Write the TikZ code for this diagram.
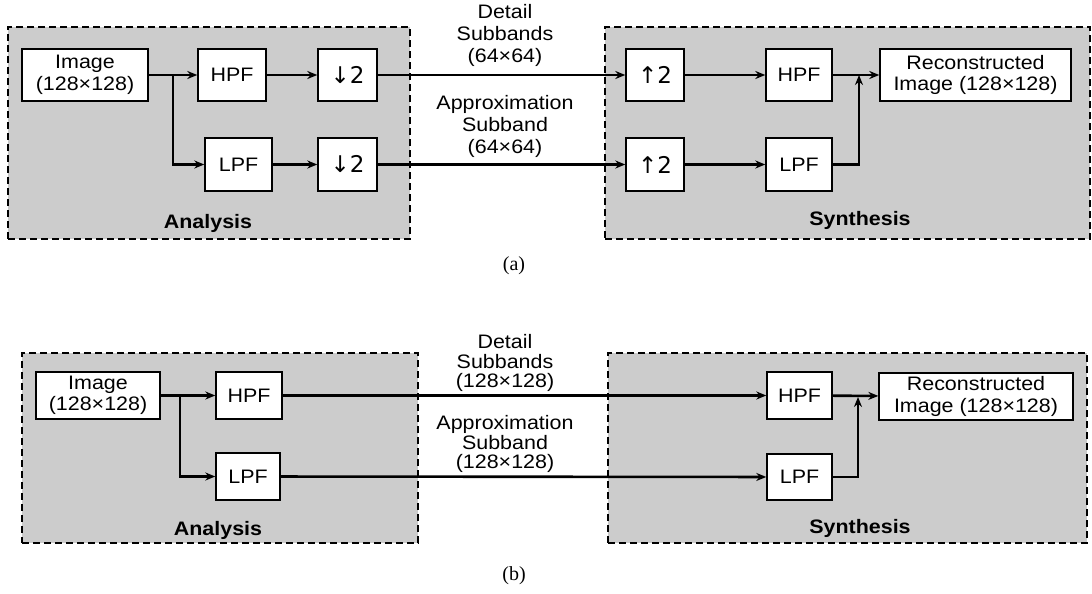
\documentclass[tikz,border=0pt]{standalone}
\usepackage{fontspec}
\setmainfont[FakeStretch=1.1]{Liberation Sans}
\newfontfamily\capfont{Liberation Serif}
\newfontfamily\arrowfont{DejaVu Sans}
\usepackage{tikz}
\usetikzlibrary{arrows.meta,positioning}
\definecolor{panelgray}{RGB}{204,204,204}
\newcommand{\dnsym}{{\arrowfont\fontsize{23}{21}\selectfont ↓2}}
\newcommand{\upsym}{{\arrowfont\fontsize{23}{21}\selectfont ↑2}}
\tikzset{
  panel/.style={draw,dashed,dash pattern=on 7pt off 4pt,line width=1.1pt,fill=panelgray,
    inner sep=0pt},
  block/.style={draw,fill=white,line width=1.4pt,inner sep=0pt,align=center,
    font=\fontsize{19.5}{21.5}\selectfont},
  signal/.style={line width=2.6pt,-{Stealth[length=10pt,width=8pt]}},
  bandlabel/.style={align=center,font=\fontsize{19.5}{22}\selectfont},
  stage/.style={font=\fontsize{19.5}{21}\selectfont\bfseries},
  caption/.style={font=\capfont\fontsize{20}{22}\selectfont}
}
\begin{document}
\begin{tikzpicture}[x=1pt,y=-1pt]
  \useasboundingbox (0,0) rectangle (1092,594);

  % ---- (a) with down/up sampling ----
  \node (anaA) [panel,minimum width=402pt,minimum height=212pt] at (209,133) {};
  \node (synA) [panel,minimum width=485pt,minimum height=212pt] at (847.5,133) {};
  \node (anaAlbl) [stage] at (208,223) {Analysis};
  \node (synAlbl) [stage] at (860,220) {Synthesis};

  \node (imgA) [block,minimum width=126pt,minimum height=52pt] at (85,75) {Image\\(128×128)};
  \node (hpfA) [block,minimum width=68pt,minimum height=52pt] at (232,75) {HPF};
  \node (lpfA) [block,minimum width=67pt,minimum height=53pt] at (238.5,164.5) {LPF};
  \node (dnhA) [block,minimum width=59pt,minimum height=52pt] at (347.5,75) {\dnsym};
  \node (dnlA) [block,minimum width=59pt,minimum height=53pt] at (347.5,164.5) {\dnsym};
  \node (uphA) [block,minimum width=58pt,minimum height=52pt] at (655,75) {\upsym};
  \node (uplA) [block,minimum width=58pt,minimum height=53pt] at (655,164.5) {\upsym};
  \node (shpfA) [block,minimum width=66pt,minimum height=52pt] at (799,75) {HPF};
  \node (slpfA) [block,minimum width=66pt,minimum height=53pt] at (799,164.5) {LPF};
  \node (recA) [block,minimum width=191pt,minimum height=52pt] at (975.5,75) {Reconstructed\\Image (128×128)};

  \node (detA) [bandlabel] at (505,35) {Detail\\Subbands\\(64×64)};
  \node (appA) [bandlabel] at (505,126) {Approximation\\Subband\\(64×64)};

  \coordinate (brA) at (173,75);
  \coordinate (mgA) at (859,75);

  \draw[signal] (imgA) -- (hpfA);
  \draw[signal] (brA) |- (lpfA);
  \draw[signal] (hpfA) -- (dnhA);
  \draw[signal] (lpfA) -- (dnlA);
  \draw[signal] (dnhA) -- (uphA);
  \draw[signal] (dnlA) -- (uplA);
  \draw[signal] (uphA) -- (shpfA);
  \draw[signal] (uplA) -- (slpfA);
  \draw[signal] (shpfA) -- (recA);
  \draw[signal] (slpfA) -| (mgA);

  \node (capA) [caption] at (514,266) {(a)};

  % ---- (b) without sampling ----
  \node (anaB) [panel,minimum width=396pt,minimum height=190pt] at (220,448) {};
  \node (synB) [panel,minimum width=479pt,minimum height=190pt] at (847.5,448) {};
  \node (anaBlbl) [stage] at (218,530) {Analysis};
  \node (synBlbl) [stage] at (860,528) {Synthesis};

  \node (imgB) [block,minimum width=124pt,minimum height=47pt] at (98,395.5) {Image\\(128×128)};
  \node (hpfB) [block,minimum width=66pt,minimum height=47pt] at (249,395.5) {HPF};
  \node (lpfB) [block,minimum width=64pt,minimum height=47pt] at (248,476.5) {LPF};
  \node (shpfB) [block,minimum width=65pt,minimum height=47pt] at (799.5,395.5) {HPF};
  \node (slpfB) [block,minimum width=65pt,minimum height=46pt] at (799.5,477) {LPF};
  \node (recB) [block,minimum width=194pt,minimum height=47pt] at (976,396.5) {Reconstructed\\Image (128×128)};

  \node (detB) [bandlabel,font=\fontsize{19.5}{19.5}\selectfont] at (505,363) {Detail\\Subbands\\(128×128)};
  \node (appB) [bandlabel,font=\fontsize{19.5}{19.5}\selectfont] at (505,444) {Approximation\\Subband\\(128×128)};

  \coordinate (brB) at (180,395.5);
  \coordinate (mgB) at (858,397);

  \draw[signal] (imgB) -- (hpfB);
  \draw[signal] (brB) |- (lpfB);
  \draw[signal] (hpfB) -- (shpfB);
  \draw[signal] (lpfB) -- (slpfB);
  \draw[signal] (shpfB) -- (recB);
  \draw[signal] (slpfB) -| (mgB);

  \node (capB) [caption] at (514,576) {(b)};
\end{tikzpicture}
\end{document}
